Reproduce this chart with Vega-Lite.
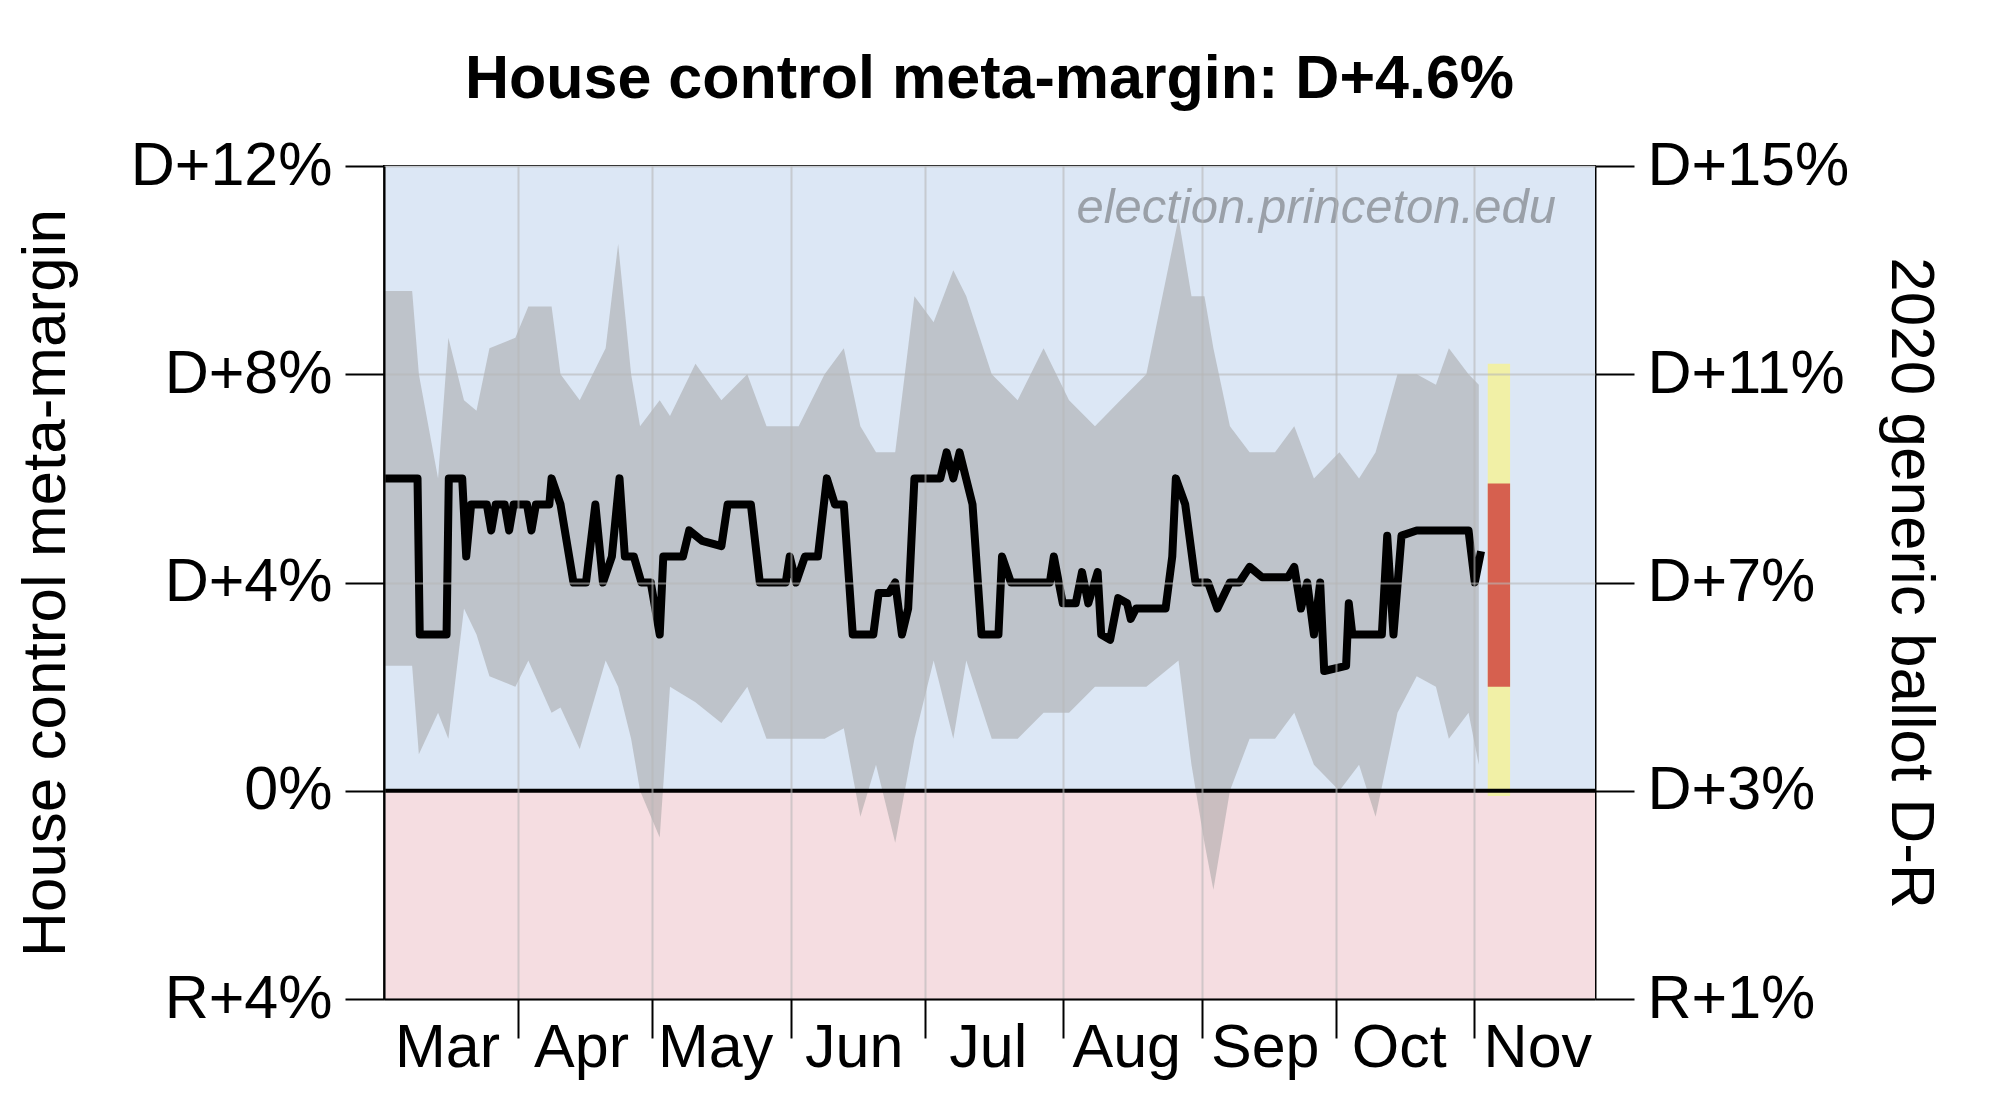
{
  "$schema": "https://vega.github.io/schema/vega-lite/v6.json",
  "autosize": "none",
  "width": 1211,
  "height": 833,
  "padding": {"left": 384, "top": 166, "right": 405, "bottom": 101},
  "background": "white",
  "config": {"font": "Liberation Sans", "view": {"stroke": "black", "strokeWidth": 2}},
  "title": {"text": "House control meta-margin: D+4.6%", "fontSize": 61, "fontWeight": "bold", "offset": 24, "color": "black"},
  "datasets": {
    "bg": [{"lo": 0, "hi": 12, "side": "D"}, {"lo": -4, "hi": 0, "side": "R"}],
    "band": [
      {"day": 0, "lo": 2.4, "hi": 9.6}, {"day": 6.3, "lo": 2.4, "hi": 9.6}, {"day": 7.8, "lo": 0.7, "hi": 8},
      {"day": 12.1, "lo": 1.5, "hi": 6}, {"day": 14.4, "lo": 1.0, "hi": 8.7}, {"day": 17.9, "lo": 3.5, "hi": 7.5},
      {"day": 20.7, "lo": 3, "hi": 7.3}, {"day": 23.6, "lo": 2.2, "hi": 8.5}, {"day": 29.4, "lo": 2, "hi": 8.7},
      {"day": 32.3, "lo": 2.5, "hi": 9.3}, {"day": 37.5, "lo": 1.5, "hi": 9.3}, {"day": 39.5, "lo": 1.6, "hi": 8},
      {"day": 43.8, "lo": 0.8, "hi": 7.5}, {"day": 49.6, "lo": 2.5, "hi": 8.5}, {"day": 52.4, "lo": 2, "hi": 10.5},
      {"day": 55.3, "lo": 1, "hi": 8}, {"day": 57.3, "lo": 0, "hi": 7}, {"day": 61.7, "lo": -0.9, "hi": 7.5},
      {"day": 64, "lo": 2, "hi": 7.2}, {"day": 69.7, "lo": 1.7, "hi": 8.2}, {"day": 75.5, "lo": 1.3, "hi": 7.5},
      {"day": 81.3, "lo": 2, "hi": 8}, {"day": 85.6, "lo": 1, "hi": 7}, {"day": 92.8, "lo": 1, "hi": 7},
      {"day": 98.6, "lo": 1, "hi": 8}, {"day": 102.9, "lo": 1.2, "hi": 8.5}, {"day": 106.6, "lo": -0.5, "hi": 7},
      {"day": 110.1, "lo": 0.5, "hi": 6.5}, {"day": 114.4, "lo": -1, "hi": 6.5}, {"day": 118.7, "lo": 1, "hi": 9.5},
      {"day": 123, "lo": 2.5, "hi": 9}, {"day": 127.4, "lo": 1, "hi": 10}, {"day": 130.3, "lo": 2.5, "hi": 9.5},
      {"day": 136, "lo": 1, "hi": 8}, {"day": 141.8, "lo": 1, "hi": 7.5}, {"day": 147.6, "lo": 1.5, "hi": 8.5},
      {"day": 153.3, "lo": 1.5, "hi": 7.5}, {"day": 159.1, "lo": 2, "hi": 7}, {"day": 164.8, "lo": 2, "hi": 7.5},
      {"day": 170.6, "lo": 2, "hi": 8}, {"day": 177.8, "lo": 2.5, "hi": 11}, {"day": 180.7, "lo": 0.5, "hi": 9.5},
      {"day": 183.6, "lo": -1, "hi": 9.5}, {"day": 185.6, "lo": -1.9, "hi": 8.5}, {"day": 189.3, "lo": 0, "hi": 7},
      {"day": 193.7, "lo": 1, "hi": 6.5}, {"day": 199.4, "lo": 1, "hi": 6.5}, {"day": 203.7, "lo": 1.5, "hi": 7},
      {"day": 208.1, "lo": 0.5, "hi": 6}, {"day": 213.8, "lo": 0, "hi": 6.5}, {"day": 218.2, "lo": 0.5, "hi": 6},
      {"day": 221.9, "lo": -0.5, "hi": 6.5}, {"day": 226.8, "lo": 1.5, "hi": 8}, {"day": 231.1, "lo": 2.2, "hi": 8},
      {"day": 235.4, "lo": 2, "hi": 7.8}, {"day": 238.3, "lo": 1, "hi": 8.5}, {"day": 242.7, "lo": 1.5, "hi": 8},
      {"day": 245, "lo": 0.5, "hi": 7.8}
    ],
    "mm": [
      {"day": 0, "v": 6}, {"day": 7.5, "v": 6}, {"day": 8, "v": 3}, {"day": 14, "v": 3}, {"day": 14.5, "v": 6},
      {"day": 17.5, "v": 6}, {"day": 18.4, "v": 4.5}, {"day": 19.5, "v": 5.5}, {"day": 23, "v": 5.5}, {"day": 24, "v": 5},
      {"day": 25, "v": 5.5}, {"day": 27, "v": 5.5}, {"day": 28, "v": 5}, {"day": 29, "v": 5.5}, {"day": 32, "v": 5.5},
      {"day": 33, "v": 5}, {"day": 34, "v": 5.5}, {"day": 37, "v": 5.5}, {"day": 37.5, "v": 6}, {"day": 39.5, "v": 5.5},
      {"day": 42.4, "v": 4}, {"day": 45.2, "v": 4}, {"day": 47.3, "v": 5.5}, {"day": 49, "v": 4}, {"day": 51, "v": 4.5},
      {"day": 52.7, "v": 6}, {"day": 53.9, "v": 4.5}, {"day": 55.9, "v": 4.5}, {"day": 57.6, "v": 4}, {"day": 59.7, "v": 4},
      {"day": 61.7, "v": 3}, {"day": 62.5, "v": 4.5}, {"day": 66.9, "v": 4.5}, {"day": 68.3, "v": 5}, {"day": 71.2, "v": 4.8},
      {"day": 75.5, "v": 4.7}, {"day": 76.9, "v": 5.5}, {"day": 82.1, "v": 5.5}, {"day": 84.1, "v": 4}, {"day": 89.9, "v": 4},
      {"day": 90.8, "v": 4.5}, {"day": 92.2, "v": 4}, {"day": 94.2, "v": 4.5}, {"day": 97.1, "v": 4.5}, {"day": 99.1, "v": 6},
      {"day": 100.9, "v": 5.5}, {"day": 102.9, "v": 5.5}, {"day": 104.9, "v": 3}, {"day": 109.5, "v": 3}, {"day": 110.7, "v": 3.8},
      {"day": 113, "v": 3.8}, {"day": 114.4, "v": 4}, {"day": 115.9, "v": 3}, {"day": 117.3, "v": 3.5}, {"day": 118.7, "v": 6},
      {"day": 124.5, "v": 6}, {"day": 125.9, "v": 6.5}, {"day": 127.4, "v": 6}, {"day": 128.8, "v": 6.5}, {"day": 131.7, "v": 5.5},
      {"day": 133.7, "v": 3}, {"day": 137.5, "v": 3}, {"day": 138.3, "v": 4.5}, {"day": 140.3, "v": 4}, {"day": 149, "v": 4},
      {"day": 149.9, "v": 4.5}, {"day": 151, "v": 4}, {"day": 151.9, "v": 3.6}, {"day": 154.8, "v": 3.6}, {"day": 156.2, "v": 4.2},
      {"day": 157.6, "v": 3.6}, {"day": 159.7, "v": 4.2}, {"day": 160.5, "v": 3}, {"day": 162.5, "v": 2.9}, {"day": 164.3, "v": 3.7},
      {"day": 166.3, "v": 3.6}, {"day": 167.1, "v": 3.3}, {"day": 168.3, "v": 3.5}, {"day": 174.9, "v": 3.5}, {"day": 176.4, "v": 4.5},
      {"day": 177.2, "v": 6}, {"day": 179.3, "v": 5.5}, {"day": 181.6, "v": 4}, {"day": 184.4, "v": 4}, {"day": 186.5, "v": 3.5},
      {"day": 189.3, "v": 4}, {"day": 191.4, "v": 4}, {"day": 193.7, "v": 4.3}, {"day": 196.5, "v": 4.1}, {"day": 202.3, "v": 4.1},
      {"day": 203.7, "v": 4.3}, {"day": 205.2, "v": 3.5}, {"day": 206.6, "v": 4}, {"day": 208.1, "v": 3}, {"day": 209.5, "v": 4},
      {"day": 210.4, "v": 2.3}, {"day": 215.3, "v": 2.4}, {"day": 215.9, "v": 3.6}, {"day": 216.7, "v": 3}, {"day": 223.3, "v": 3},
      {"day": 224.5, "v": 4.9}, {"day": 225.9, "v": 3}, {"day": 227.7, "v": 4.9}, {"day": 231.1, "v": 5}, {"day": 242.7, "v": 5},
      {"day": 244.1, "v": 4}, {"day": 245.5, "v": 4.6}
    ],
    "bars": [
      {"d0": 247, "d1": 252, "lo": -0.1, "hi": 8.2, "kind": "outer"},
      {"d0": 247, "d1": 252, "lo": 2.0, "hi": 5.9, "kind": "inner"}
    ],
    "zero": [{"r": 3}],
    "mark": [{"day": 208.6, "v": 11.2, "t": "election.princeton.edu"}]
  },
  "layer": [
    {
      "layer": [
        {
          "data": {"name": "bg"},
          "mark": {"type": "rect"},
          "encoding": {
            "y": {"field": "lo", "type": "quantitative", "scale": {"domain": [-4, 12], "nice": false},
              "axis": {"values": [-4, 0, 4, 8, 12], "title": "House control meta-margin", "titleFontSize": 62, "titleFontWeight": "normal", "titleColor": "black", "titlePadding": 107,
                "labelFontSize": 61, "labelColor": "black", "labelPadding": 13, "labelLimit": 400, "tickSize": 39, "tickColor": "black", "tickWidth": 2, "domainColor": "black", "domainWidth": 2,
                "gridColor": "#b8b8b8", "gridWidth": 2, "zindex": 1,
                "gridOpacity": {"condition": {"test": "datum.value == 0", "value": 0}, "value": 0.6},
                "labelExpr": "datum.value > 0 ? 'D+' + datum.value + '%' : (datum.value < 0 ? 'R+' + (-datum.value) + '%' : '0%')"}},
            "y2": {"field": "hi"},
            "color": {"field": "side", "type": "nominal", "scale": {"domain": ["D", "R"], "range": ["#dce7f5", "#f5dde1"]}, "legend": null}
          }
        },
        {
          "data": {"name": "band"},
          "mark": {"type": "area", "color": "#a0a0a0", "opacity": 0.5},
          "encoding": {
            "x": {"field": "day", "type": "quantitative", "scale": {"domain": [0, 271], "nice": false, "zero": false},
              "axis": {"values": [0, 30, 60, 91, 121, 152, 183, 213, 244], "title": null, "labelFontSize": 61, "labelColor": "black", "labelOffset": 63, "labelPadding": -20, "labelFlush": false,
                "tickSize": 39, "tickColor": "black", "tickWidth": 2, "domainColor": "black", "domainWidth": 2,
                "tickOpacity": {"condition": {"test": "datum.value < 1", "value": 0}, "value": 1},
                "gridColor": "#b8b8b8", "gridWidth": 2, "gridOpacity": 0.6, "zindex": 1,
                "labelExpr": "['Mar','Apr','May','Jun','Jul','Aug','Sep','Oct','Nov'][indexof([0,30,60,91,121,152,183,213,244], datum.value)]"}},
            "y": {"field": "lo", "type": "quantitative"},
            "y2": {"field": "hi"}
          }
        },
        {
          "data": {"name": "mm"},
          "mark": {"type": "line", "color": "black", "strokeWidth": 8, "strokeJoin": "round"},
          "encoding": {"x": {"field": "day", "type": "quantitative"}, "y": {"field": "v", "type": "quantitative"}}
        },
        {
          "data": {"name": "bars"},
          "mark": {"type": "rect"},
          "encoding": {
            "x": {"field": "d0", "type": "quantitative"}, "x2": {"field": "d1"},
            "y": {"field": "lo", "type": "quantitative"}, "y2": {"field": "hi"},
            "fill": {"field": "kind", "type": "nominal", "scale": {"domain": ["outer", "inner"], "range": ["#f1f0a6", "#d6604f"]}, "legend": null}
          }
        },
        {
          "data": {"name": "mark"},
          "mark": {"type": "text", "fontSize": 49, "fontStyle": "italic", "color": "#9aa0a8"},
          "encoding": {"x": {"field": "day", "type": "quantitative"}, "y": {"field": "v", "type": "quantitative"}, "text": {"field": "t"}}
        }
      ]
    },
    {
      "data": {"name": "zero"},
      "mark": {"type": "rule", "color": "black", "strokeWidth": 4},
      "encoding": {
        "y": {"field": "r", "type": "quantitative", "scale": {"domain": [-1, 15], "nice": false},
          "axis": {"orient": "right", "values": [-1, 3, 7, 11, 15], "grid": false, "title": "2020 generic ballot D-R", "titleAngle": 90, "titleFontSize": 62, "titleFontWeight": "normal", "titleColor": "black", "titlePadding": 83,
            "labelFontSize": 61, "labelColor": "black", "labelPadding": 13, "labelLimit": 400, "tickSize": 39, "tickColor": "black", "tickWidth": 2, "domainColor": "black", "domainWidth": 2,
            "labelExpr": "datum.value > 0 ? 'D+' + datum.value + '%' : 'R+' + (-datum.value) + '%'"}}
      }
    }
  ],
  "resolve": {"scale": {"y": "independent"}}
}
